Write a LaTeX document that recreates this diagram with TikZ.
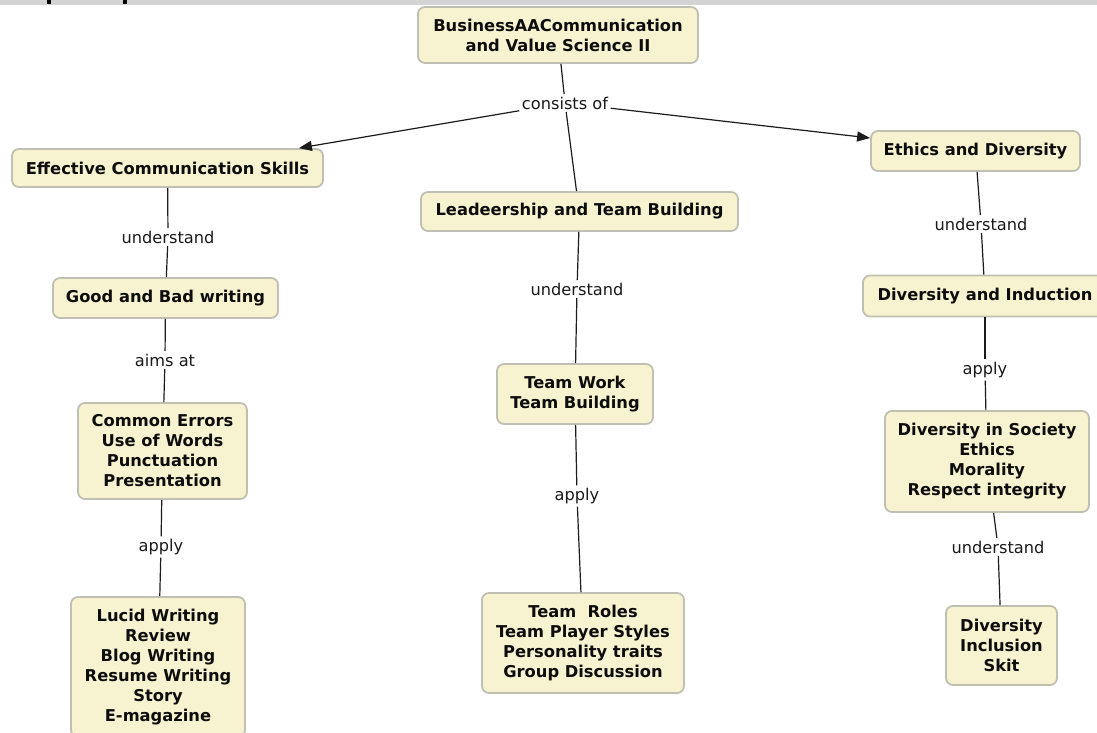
\documentclass[tikz,border=0pt]{standalone}
\usepackage{fontspec}
\setmainfont{DejaVu Sans}
\usetikzlibrary{arrows.meta}
\definecolor{cfill}{RGB}{247,243,208}
\definecolor{cborder}{RGB}{192,192,178}
\definecolor{lnk}{RGB}{28,28,28}
\definecolor{topbar}{RGB}{211,211,211}
\begin{document}
\begin{tikzpicture}[x=1pt,y=-1pt,
  concept/.style={draw=cborder, line width=1.8pt, fill=cfill, rounded corners=7pt,
    align=center, inner sep=0pt, font=\fontsize{16.3}{20}\selectfont\bfseries, text=black!95},
  lbl/.style={inner sep=2.5pt, font=\fontsize{16.2}{20}\selectfont, text=black!90},
  link/.style={draw=lnk, line width=1.2pt},
  arr/.style={link, -{Triangle[length=13pt,width=10pt]}}]
\clip (0,0) rectangle (1097,733);
\fill[white] (0,0) rectangle (1097,733);
% top bar
\fill[topbar] (0,0) rectangle (1097,5);
\fill[black] (47,0) rectangle (51,4);
\fill[black] (123,0) rectangle (127,4);

% concepts
\node[concept, minimum width=280pt, minimum height=56pt] (root) at (558,35) {BusinessAACommunication\\and Value Science II};
\node[concept, minimum width=311pt, minimum height=38pt] (eff) at (167.5,168) {Effective Communication Skills};
\node[concept, minimum width=317pt, minimum height=39pt] (lead) at (579.5,211.5) {Leadeership and Team Building};
\node[concept, minimum width=209pt, minimum height=40pt] (eth) at (975.5,151) {Ethics and Diversity};
\node[concept, minimum width=225pt, minimum height=40pt] (good) at (165.5,298) {Good and Bad writing};
\node[concept, minimum width=156pt, minimum height=60pt] (tw) at (575,394) {Team Work\\Team Building};
\node[concept, minimum width=244pt, minimum height=41pt] (dind) at (985,296) {Diversity and Induction};
\node[concept, minimum width=169pt, minimum height=96pt] (ce) at (162.5,451) {Common Errors\\Use of Words\\Punctuation\\Presentation};
\node[concept, minimum width=174pt, minimum height=140pt] (lucid) at (158,667) {Lucid Writing\\Review\\Blog Writing\\Resume Writing\\Story\\E-magazine};
\node[concept, minimum width=202pt, minimum height=100pt] (tr) at (583,643) {Team\ \ Roles\\Team Player Styles\\Personality traits\\Group Discussion};
\node[concept, minimum width=204pt, minimum height=101pt] (dis) at (987,461.5) {Diversity in Society\\Ethics\\Morality\\Respect integrity};
\node[concept, minimum width=111pt, minimum height=79pt] (skit) at (1001.5,645.5) {Diversity\\Inclusion\\Skit};

% linking phrases
\node[lbl] (cons) at (565,103) {consists of};
\node[lbl] (u1) at (168,237) {understand};
\node[lbl] (a1) at (165,360) {aims at};
\node[lbl] (ap1) at (161,547) {apply};
\node[lbl] (u2) at (577,289) {understand};
\node[lbl] (ap2) at (577,496) {apply};
\node[lbl] (u3) at (981,224) {understand};
\node[lbl] (ap3) at (985,370) {apply};
\node[lbl] (u4) at (998,547) {understand};

% connectors
\draw[link] (root) -- (cons);
\draw[arr] (cons) -- ([xshift=-25pt]eff.north east);
\draw[link] (cons) -- ([xshift=-3pt]lead.north);
\draw[arr] (cons) -- ([yshift=13pt]eth.west);

\draw[link] (eff) -- (u1);
\draw[link] (u1) -- (good);
\draw[link] (good) -- (a1);
\draw[link] (a1) -- (ce);
\draw[link] (ce) -- (ap1);
\draw[link] (ap1) -- (lucid);

\draw[link] (lead) -- (u2);
\draw[link] (u2) -- (tw);
\draw[link] (tw) -- (ap2);
\draw[link] (ap2) -- (tr);

\draw[link] (eth) -- (u3);
\draw[link] (u3) -- (dind);
\draw[link] (dind) -- (ap3);
\draw[link] (ap3) -- (dis);
\draw[link] (dis) -- (u4);
\draw[link] (u4) -- (skit);
\end{tikzpicture}
\end{document}
